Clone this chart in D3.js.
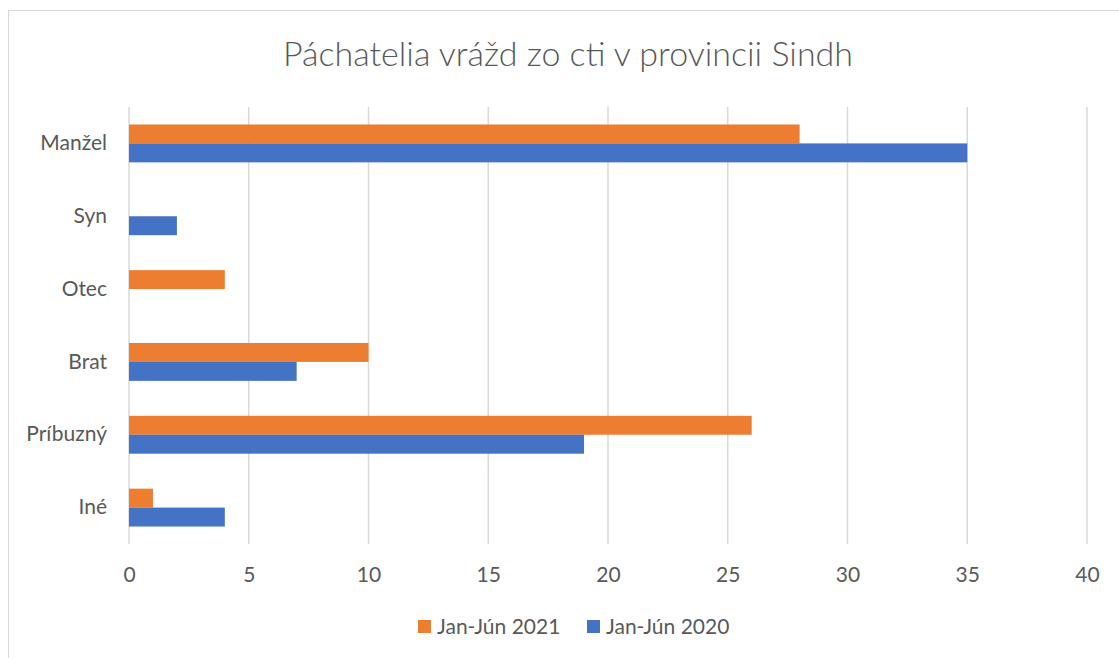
<!DOCTYPE html>
<html>
<head>
<meta charset="utf-8">
<script src="https://cdn.jsdelivr.net/npm/d3@7"></script>
<style>
  body { margin: 0; background: #fff; }
  text { font-family: Lato, "Open Sans", sans-serif; fill: #595959; }
</style>
</head>
<body>
<div id="chart"></div>
<script>
// Data
const categories = ["Manžel", "Syn", "Otec", "Brat", "Príbuzný", "Iné"];
const seriesNames = ["Jan-Jún 2021", "Jan-Jún 2020"];
const values2021 = [28, 0, 4, 10, 26, 1];
const values2020 = [35, 2, 0, 7, 19, 4];
const xTicks = [0, 5, 10, 15, 20, 25, 30, 35, 40];
const colors = ["#ED7D31", "#4472C4"];

const W = 1119, H = 658;
const margin = { top: 107, right: 32, bottom: 114, left: 129 };
const width = W - margin.left - margin.right;
const height = H - margin.top - margin.bottom;

const svg = d3.select("#chart")
  .append("svg")
  .attr("width", W)
  .attr("height", H);

// Outer chart border
svg.append("rect")
  .attr("x", 8.5)
  .attr("y", 10.5)
  .attr("width", W)
  .attr("height", H)
  .attr("fill", "none")
  .attr("stroke", "#D9D9D9")
  .attr("stroke-width", 1);

const g = svg.append("g")
  .attr("transform", `translate(${margin.left},${margin.top})`);

const x = d3.scaleLinear().domain([0, 40]).range([0, width]);
const y = d3.scaleBand().domain(categories).range([0, height]).paddingInner(0.48).paddingOuter(0.24);
const ySub = d3.scaleBand().domain(seriesNames).range([0, y.bandwidth()]);

// Vertical gridlines
g.selectAll(".grid")
  .data(xTicks)
  .join("line")
  .attr("x1", d => x(d))
  .attr("x2", d => x(d))
  .attr("y1", 0)
  .attr("y2", height)
  .attr("stroke", "#D9D9D9")
  .attr("stroke-width", 1.5);

// Bars
const rows = categories.map((c, i) => ({ cat: c, vals: [values2021[i], values2020[i]] }));
const grp = g.selectAll(".cat")
  .data(rows)
  .join("g")
  .attr("transform", d => `translate(0,${y(d.cat)})`);

grp.selectAll("rect")
  .data(d => d.vals.map((v, j) => ({ name: seriesNames[j], v, j })))
  .join("rect")
  .attr("x", x(0))
  .attr("y", d => ySub(d.name))
  .attr("width", d => x(d.v) - x(0))
  .attr("height", ySub.bandwidth())
  .attr("fill", d => colors[d.j]);

// X axis labels
g.append("g")
  .attr("transform", `translate(0,${height})`)
  .call(d3.axisBottom(x).tickValues(xTicks).tickSize(0).tickPadding(23))
  .call(a => a.select(".domain").remove())
  .selectAll("text")
  .style("font-size", "21px")
  .attr("fill", "#595959");

// Y axis labels
g.append("g")
  .call(d3.axisLeft(y).tickSize(0).tickPadding(22))
  .call(a => a.select(".domain").remove())
  .selectAll("text")
  .style("font-size", "21px")
  .attr("fill", "#595959");

// Title
svg.append("text")
  .attr("x", 568)
  .attr("y", 66)
  .attr("text-anchor", "middle")
  .style("font-size", "34px")
  .style("font-weight", 300)
  .text("Páchatelia vrážd zo cti v provincii Sindh");

// Legend
const legend = svg.append("g").attr("transform", "translate(418,620)");
const legX = [0, 169];
seriesNames.forEach((n, i) => {
  legend.append("rect")
    .attr("x", legX[i])
    .attr("y", 0)
    .attr("width", 13)
    .attr("height", 13)
    .attr("fill", colors[i]);
  legend.append("text")
    .attr("x", legX[i] + 19)
    .attr("y", 14)
    .style("font-size", "21px")
    .text(n);
});
</script>
</body>
</html>
